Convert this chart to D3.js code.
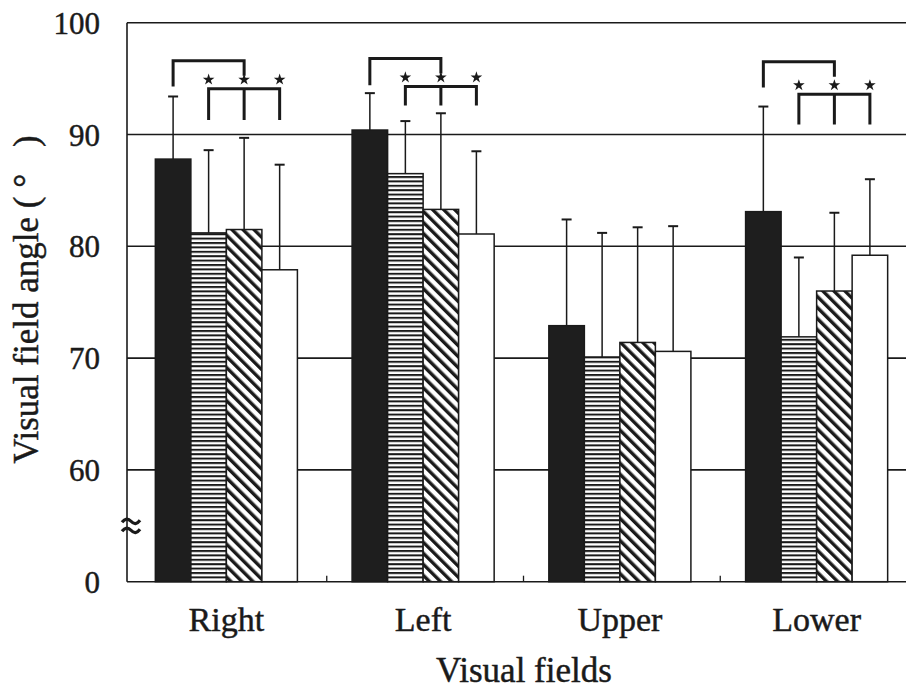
<!DOCTYPE html>
<html>
<head>
<meta charset="utf-8">
<script src="https://cdn.jsdelivr.net/npm/d3@7"></script>
<style>
  body { margin: 0; background: #fff; }
  text { font-family: "Liberation Serif", "Times New Roman", serif; fill: #1a1a1a; stroke: #1a1a1a; stroke-width: 0.45px; }
</style>
</head>
<body>
<svg id="chart" width="906" height="691"></svg>
<script>
// Visual fields (x categories)
var categories = ["Right", "Left", "Upper", "Lower"];

// Mean visual field angle per series (same order as categories)
var solidMeans = [87.8, 90.4, 72.9, 83.1];
var hlineMeans = [81.2, 86.5, 70.1, 71.9];
var diagMeans = [81.5, 83.3, 71.4, 76.0];
var openMeans = [77.9, 81.1, 70.6, 79.2];

// Standard deviations (upper error bars)
var solidSD = [5.6, 3.3, 9.5, 9.4];
var hlineSD = [7.4, 4.7, 11.1, 7.1];
var diagSD = [8.2, 8.6, 10.3, 7.0];
var openSD = [9.4, 7.4, 11.2, 6.8];

// y ticks; the axis is broken, so the bottom tick (50) is labelled 0
var yTicks = [50, 60, 70, 80, 90, 100];
var yTickLabels = ["0", "60", "70", "80", "90", "100"];

// significance brackets
var sigCategories = ["Right", "Left", "Lower"];
var bracketTop = [96.6, 96.8, 96.5];
var bracketTopLeg = [94.3, 94.4, 94.2];
var bracketLow = [94.1, 94.3, 93.6];
var bracketLowLeg = [91.3, 92.6, 90.9];

var series = [
  { key: "solid", means: solidMeans, sd: solidSD, fill: "#1e1e1e" },
  { key: "hline", means: hlineMeans, sd: hlineSD, fill: "url(#hlines)" },
  { key: "diag", means: diagMeans, sd: diagSD, fill: "url(#diag)" },
  { key: "open", means: openMeans, sd: openSD, fill: "#fff" }
];

var ink = "#1a1a1a";
var svg = d3.select("#chart");

// patterns
var defs = svg.append("defs");
var hp = defs.append("pattern")
  .attr("id", "hlines")
  .attr("patternUnits", "userSpaceOnUse")
  .attr("width", 8)
  .attr("height", 4.4);
hp.append("rect").attr("width", 8).attr("height", 4.4).attr("fill", "#fff");
hp.append("rect").attr("width", 8).attr("height", 2).attr("fill", ink);

var dp = defs.append("pattern")
  .attr("id", "diag")
  .attr("patternUnits", "userSpaceOnUse")
  .attr("width", 7.8)
  .attr("height", 8)
  .attr("patternTransform", "rotate(-45)");
dp.append("rect").attr("width", 7.8).attr("height", 8).attr("fill", "#fff");
dp.append("rect").attr("width", 3.4).attr("height", 8).attr("fill", ink);

// scales
var x0 = d3.scaleBand().domain(categories).range([128, 915]);
var x1 = d3.scaleBand()
  .domain(d3.range(series.length))
  .range([0, x0.bandwidth()])
  .paddingOuter(0.77);
var y = d3.scaleLinear().domain([50, 100]).range([581.7, 22.7]);

function cx(cat, i) {
  return x0(cat) + x1(i) + x1.bandwidth() / 2;
}

// gridlines (behind the bars)
svg.append("g")
  .selectAll("line")
  .data(yTicks.slice(1))
  .enter()
  .append("line")
  .attr("x1", 127)
  .attr("x2", 915)
  .attr("y1", function (d) { return y(d); })
  .attr("y2", function (d) { return y(d); })
  .style("stroke", ink)
  .style("stroke-width", 1.6);

// bars
var groups = svg.append("g")
  .selectAll("g")
  .data(series)
  .enter()
  .append("g");

groups.selectAll("rect")
  .data(function (s, i) {
    return categories.map(function (c, j) {
      return { cat: c, i: i, v: s.means[j], sd: s.sd[j], fill: s.fill };
    });
  })
  .enter()
  .append("rect")
  .attr("x", function (d) { return x0(d.cat) + x1(d.i); })
  .attr("width", x1.bandwidth())
  .attr("y", function (d) { return y(d.v); })
  .attr("height", function (d) { return y(50) - y(d.v); })
  .style("fill", function (d) { return d.fill; })
  .style("stroke", ink)
  .style("stroke-width", 1.5);

// error bars
var errs = groups.selectAll("g.err")
  .data(function (s, i) {
    return categories.map(function (c, j) {
      return { cat: c, i: i, v: s.means[j], sd: s.sd[j] };
    });
  })
  .enter()
  .append("g")
  .attr("class", "err");

errs.append("line")
  .attr("x1", function (d) { return cx(d.cat, d.i); })
  .attr("x2", function (d) { return cx(d.cat, d.i); })
  .attr("y1", function (d) { return y(d.v); })
  .attr("y2", function (d) { return y(d.v + d.sd); })
  .style("stroke", ink)
  .style("stroke-width", 1.5);

errs.append("line")
  .attr("x1", function (d) { return cx(d.cat, d.i) - 5; })
  .attr("x2", function (d) { return cx(d.cat, d.i) + 5; })
  .attr("y1", function (d) { return y(d.v + d.sd); })
  .attr("y2", function (d) { return y(d.v + d.sd); })
  .style("stroke", ink)
  .style("stroke-width", 2);

// axes lines
svg.append("line")
  .attr("x1", 127).attr("x2", 127)
  .attr("y1", y(100)).attr("y2", y(50))
  .style("stroke", ink).style("stroke-width", 1.6);
svg.append("line")
  .attr("x1", 127).attr("x2", 915)
  .attr("y1", y(50)).attr("y2", y(50))
  .style("stroke", ink).style("stroke-width", 1.6);

// small ticks between categories
svg.append("g")
  .selectAll("line")
  .data(categories.slice(1))
  .enter()
  .append("line")
  .attr("x1", function (d) { return x0(d) + 2; })
  .attr("x2", function (d) { return x0(d) + 2; })
  .attr("y1", y(50))
  .attr("y2", y(50) - 6)
  .style("stroke", ink)
  .style("stroke-width", 1.3);

// y tick labels
svg.append("g")
  .selectAll("text")
  .data(yTicks)
  .enter()
  .append("text")
  .attr("x", 100)
  .attr("y", function (d) { return y(d); })
  .attr("dy", "0.36em")
  .attr("text-anchor", "end")
  .attr("font-size", "31px")
  .text(function (d, i) { return yTickLabels[i]; });

// axis break mark
var yb = y(55);
svg.append("g")
  .selectAll("path")
  .data([-4.5, 4.5])
  .enter()
  .append("path")
  .attr("d", function (o) {
    return "M122," + (yb + o + 1) + " q4.5,-6 9,-1 t9,-1";
  })
  .style("fill", "none")
  .style("stroke", ink)
  .style("stroke-width", 3.2);

// category labels
svg.append("g")
  .selectAll("text")
  .data(categories)
  .enter()
  .append("text")
  .attr("x", function (d) { return x0(d) + x0.bandwidth() / 2; })
  .attr("y", 631)
  .attr("text-anchor", "middle")
  .attr("font-size", "34px")
  .text(function (d) { return d; });

// axis titles
svg.append("text")
  .attr("x", 524)
  .attr("y", 682)
  .attr("text-anchor", "middle")
  .attr("font-size", "35px")
  .text("Visual fields");

var yt = svg.append("text")
  .attr("transform", "translate(38,295) rotate(-90)")
  .attr("text-anchor", "middle")
  .attr("font-size", "35px");
yt.append("tspan").text("Visual field angle ");
yt.append("tspan").attr("letter-spacing", "9px").text("(°\u00a0)");

// significance brackets
var sig = svg.append("g")
  .selectAll("g")
  .data(sigCategories)
  .enter()
  .append("g");

sig.append("path")
  .attr("d", function (c, k) {
    var a = cx(c, 0), b = cx(c, 2), t = y(bracketTop[k]);
    return "M" + a + "," + y(bracketTopLeg[k]) + "V" + t + "H" + b + "V" + (t + 15);
  })
  .style("fill", "none")
  .style("stroke", ink)
  .style("stroke-width", 3);

sig.append("path")
  .attr("d", function (c, k) {
    var t = y(bracketLow[k]), e = y(bracketLowLeg[k]);
    var p = "M" + cx(c, 1) + "," + e + "V" + t + "H" + cx(c, 3) + "V" + e;
    p += "M" + cx(c, 2) + "," + t + "V" + e;
    return p;
  })
  .style("fill", "none")
  .style("stroke", ink)
  .style("stroke-width", 3);

sig.selectAll("path.star")
  .data(function (c, k) {
    return [1, 2, 3].map(function (i) { return { c: c, i: i, k: k }; });
  })
  .enter()
  .append("path")
  .attr("class", "star")
  .attr("d", d3.symbol(d3.symbolStar).size(42))
  .attr("transform", function (d) {
    return "translate(" + cx(d.c, d.i) + "," + (y(bracketLow[d.k]) - 9) + ")";
  })
  .style("fill", ink);
</script>
</body>
</html>
